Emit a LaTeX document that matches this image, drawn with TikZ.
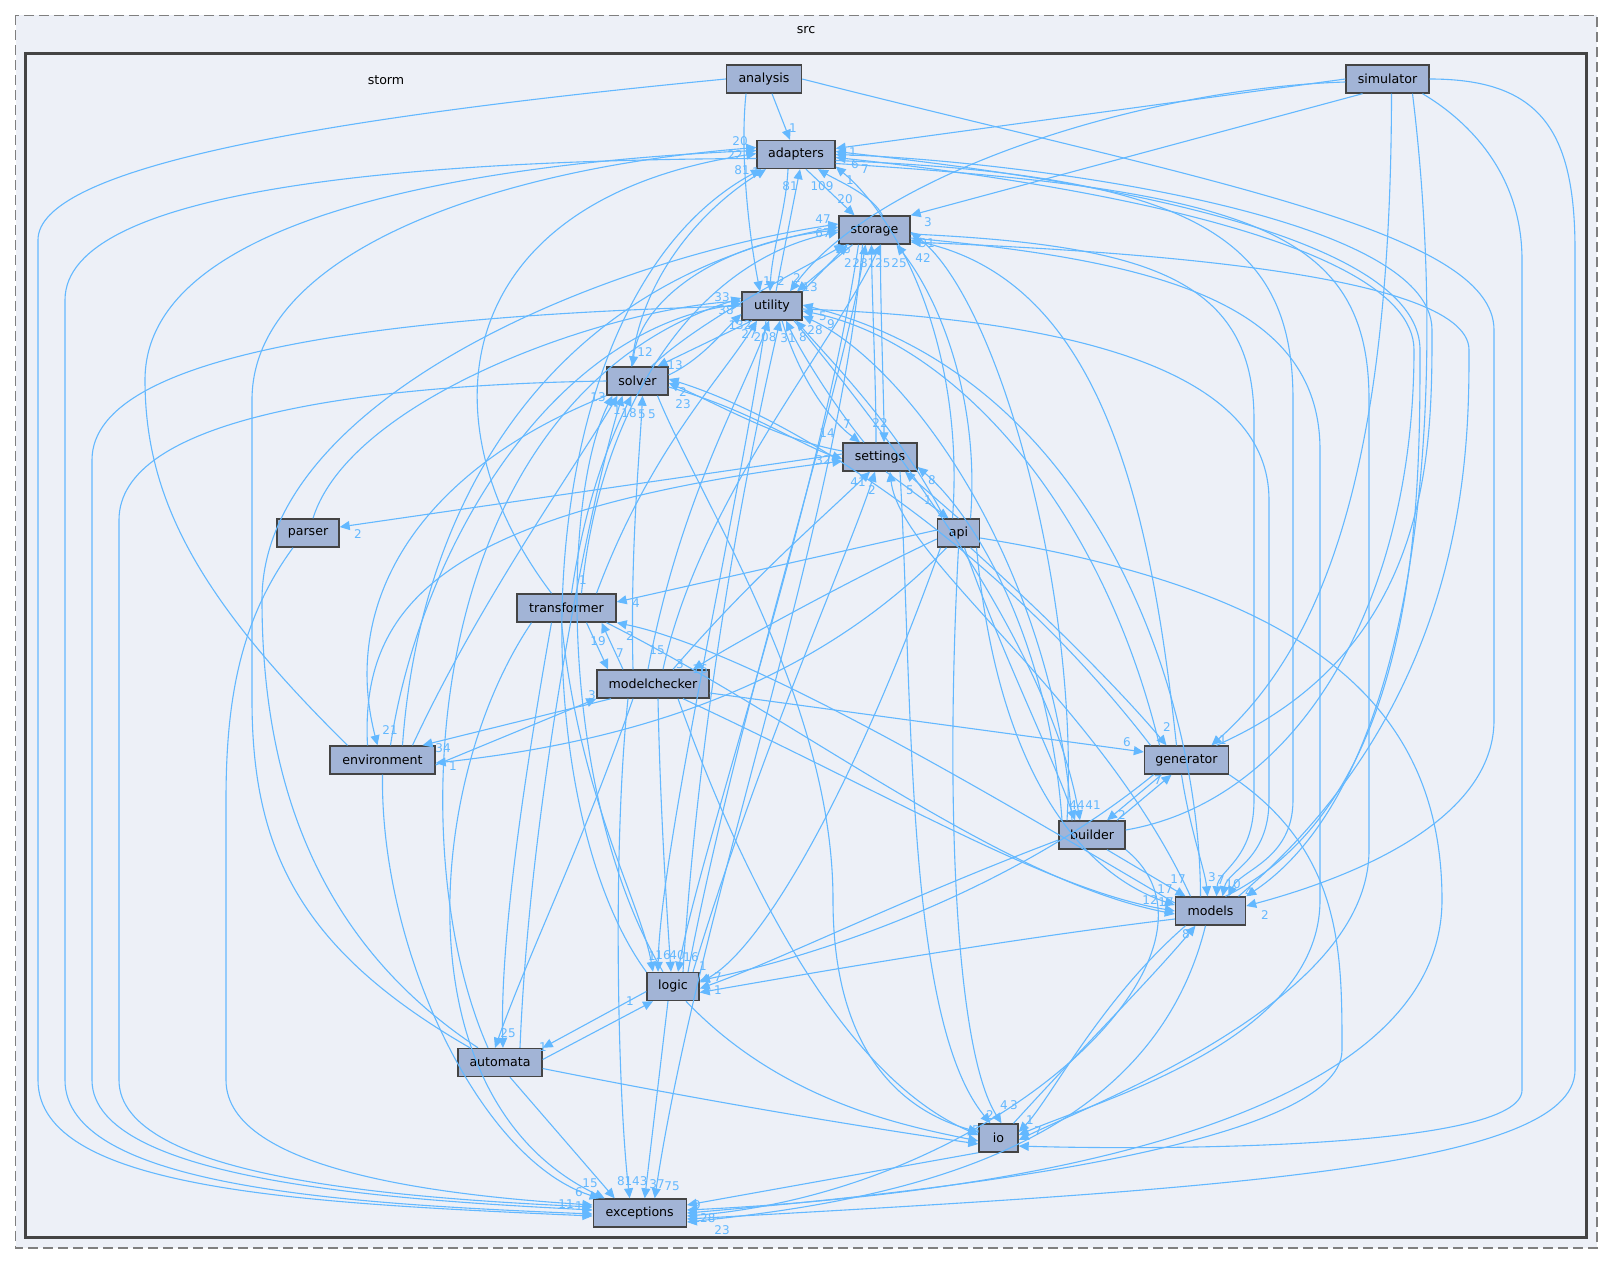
\documentclass[tikz,border=0pt]{standalone}
\usepackage{fontspec}
\setmainfont{DejaVu Sans}
\usetikzlibrary{arrows.meta}
\definecolor{bgc}{HTML}{EDF0F7}
\definecolor{nodec}{HTML}{A2B4D6}
\definecolor{bordc}{HTML}{444444}
\definecolor{edgec}{HTML}{63B8FF}
\definecolor{dashc}{HTML}{7F7F7F}
\begin{document}
\begin{tikzpicture}[x=1pt,y=-1pt,
  dirn/.style={draw=bordc, line width=1.4pt, fill=nodec, minimum height=28pt, inner sep=0pt, font=\fontsize{12.6}{14}\selectfont},
  e/.style={draw=edgec, line width=1.1pt, -{Triangle[length=10pt,width=9pt]}},
  lab/.style={text=edgec, font=\fontsize{12}{13}\selectfont, inner sep=0pt},
  cl/.style={font=\fontsize{12.6}{14}\selectfont, inner sep=0pt}
]
\useasboundingbox (0,0) rectangle (1613,1265);
\fill[white] (0,0) rectangle (1613,1265);
\draw[dashc, line width=1.6pt, dash pattern=on 10pt off 5pt, fill=bgc] (15.5,15.5) rectangle (1597,1248);
\draw[bordc, line width=3pt, fill=bgc] (25.7,53.3) rectangle (1586.4,1237);
\node[cl] (srclab) at (806,30) {src};
\node[cl] (stormlab) at (386,80) {storm};

% nodes
\node[dirn, minimum width=75pt] (A) at (764,79) {analysis};
\node[dirn, minimum width=83pt] (Sim) at (1387.5,79) {simulator};
\node[dirn, minimum width=78pt] (Ad) at (796,154.5) {adapters};
\node[dirn, minimum width=71pt] (St) at (874.5,230) {storage};
\node[dirn, minimum width=60pt] (U) at (772,306) {utility};
\node[dirn, minimum width=61pt] (So) at (637.5,381) {solver};
\node[dirn, minimum width=74pt] (Se) at (880,457) {settings};
\node[dirn, minimum width=42pt] (Api) at (958.5,533) {api};
\node[dirn, minimum width=62pt] (P) at (308,533) {parser};
\node[dirn, minimum width=99pt] (T) at (566.5,608) {transformer};
\node[dirn, minimum width=112pt] (MC) at (653,684) {modelchecker};
\node[dirn, minimum width=105pt] (Env) at (382.5,760) {environment};
\node[dirn, minimum width=84pt] (G) at (1186.5,760) {generator};
\node[dirn, minimum width=66pt] (B) at (1092,835) {builder};
\node[dirn, minimum width=70pt] (M) at (1210.5,911) {models};
\node[dirn, minimum width=52pt] (L) at (673,986.5) {logic};
\node[dirn, minimum width=84pt] (Au) at (500,1062.5) {automata};
\node[dirn, minimum width=39pt] (IO) at (998.5,1138) {io};
\node[dirn, minimum width=93pt] (Ex) at (639.7,1213) {exceptions};

% analysis
\draw[e] ([xshift=8pt]A.south) -- ([xshift=-6pt]Ad.north);
\draw[e] ([xshift=-18pt]A.south) .. controls (740,150) and (748,230) .. ([xshift=-12pt]U.north);
\draw[e] (A.west) .. controls (300,120) and (38,170) .. (38,240) -- (38,1080) .. controls (38,1190) and (300,1203) .. ([yshift=-3pt]Ex.west);
\draw[e] (A.east) .. controls (1200,180) and (1494,230) .. (1494,330) -- (1494,720) .. controls (1494,810) and (1380,870) .. ([yshift=5pt]M.east);
% simulator
\draw[e] (Sim.west) -- ([yshift=6pt]Ad.east);
\draw[e] ([xshift=-25pt]Sim.south) -- (St.north east);
\draw[e] ([yshift=-3pt]Sim.west) .. controls (1150,88) and (880,170) .. ([xshift=18pt]U.north);
\draw[e] ([xshift=4pt]Sim.south) .. controls (1391,450) and (1330,640) .. ([xshift=25pt]G.north);
\draw[e] ([xshift=25pt]Sim.south) .. controls (1450,400) and (1420,780) .. (M.north east);
\draw[e] (Sim.east) .. controls (1540,79) and (1575,130) .. (1575,250) -- (1575,1070) .. controls (1575,1170) and (1200,1190) .. ([yshift=-6pt]Ex.east);
\draw[e] ([xshift=35pt]Sim.south) .. controls (1450,110) and (1522,160) .. (1522,260) -- (1522,1090) .. controls (1522,1150) and (1150,1150) .. ([yshift=-8pt]IO.east);
% adapters
\draw[e] ([xshift=10pt]Ad.south) -- ([xshift=-20pt]St.north);
\draw[e] ([xshift=-8pt]Ad.south) .. controls (786,210) and (772,250) .. ([xshift=-2pt]U.north);
\draw[e] ([yshift=-4pt]Ad.west) .. controls (400,160) and (65,190) .. (65,300) -- (65,1080) .. controls (65,1188) and (350,1204) .. ([yshift=-1pt]Ex.west);
\draw[e] ([yshift=-9pt]Ad.east) .. controls (1250,190) and (1369,230) .. (1369,400) -- (1369,850) .. controls (1369,1000) and (1100,1100) .. ([yshift=-2pt]IO.east);
\draw[e] ([yshift=-6pt]Ad.east) .. controls (1200,175) and (1293,240) .. (1293,400) -- (1293,800) .. controls (1293,860) and (1240,870) .. ([xshift=18pt]M.north);
% storage
\draw[e] ([xshift=8pt]St.north) .. controls (872,195) and (840,182) .. ([xshift=22pt]Ad.south);
\draw[e] ([xshift=-22pt]St.south) -- ([xshift=25pt]U.north);
\draw[e] ([xshift=6pt]St.south) .. controls (880,300) and (884,400) .. ([xshift=4pt]Se.north);
\draw[e] (St.west) .. controls (720,240) and (640,300) .. ([xshift=-5pt]So.north);
\draw[e] ([xshift=-12pt]St.south) .. controls (840,520) and (700,900) .. ([xshift=15pt]Ex.north);
\draw[e] ([yshift=-4pt]St.east) .. controls (1150,245) and (1254,280) .. (1254,420) -- (1254,800) .. controls (1254,860) and (1218,870) .. ([xshift=6pt]M.north);
\draw[e] ([yshift=-8pt]St.east) .. controls (1150,260) and (1320,300) .. (1320,450) -- (1320,900) .. controls (1320,1040) and (1100,1100) .. ([yshift=3pt]IO.east);
\draw[e] ([xshift=-16pt]St.south) .. controls (820,500) and (700,850) .. ([xshift=5pt]L.north);
% utility
\draw[e] ([xshift=4pt]U.north) -- ([xshift=4pt]Ad.south);
\draw[e] (U.north east) -- ([xshift=-27pt]St.south);
\draw[e] ([xshift=-20pt]U.south) -- ([xshift=20pt]So.north);
\draw[e] ([xshift=10pt]U.south) .. controls (800,380) and (830,420) .. ([xshift=-20pt]Se.north);
\draw[e] (U.west) .. controls (400,315) and (92,350) .. (92,460) -- (92,1080) .. controls (92,1182) and (400,1200) .. ([yshift=3pt]Ex.west);
\draw[e] ([yshift=-3pt]U.east) .. controls (1100,320) and (1269,380) .. (1269,500) -- (1269,800) .. controls (1269,860) and (1228,870) .. ([xshift=12pt]M.north);
\draw[e] ([xshift=-6pt]U.south) .. controls (740,500) and (660,850) .. ([xshift=-15pt]L.north);
\draw[e] ([xshift=22pt]U.south) .. controls (900,450) and (1050,650) .. ([xshift=-12pt]B.north);
% solver
\draw[e] ([xshift=-6pt]So.north) .. controls (640,280) and (700,210) .. ([xshift=-30pt]Ad.south);
\draw[e] ([xshift=14pt]So.north) .. controls (700,320) and (800,270) .. ([xshift=-30pt]St.south);
\draw[e] ([yshift=6pt]So.east) .. controls (700,360) and (720,335) .. ([yshift=-8pt]U.west);
\draw[e] ([yshift=-6pt]So.east) .. controls (750,410) and (800,445) .. ([yshift=-2pt]Se.west);
\draw[e] (So.west) .. controls (350,385) and (119,420) .. (119,520) -- (119,1080) .. controls (119,1178) and (400,1198) .. ([yshift=6pt]Ex.west);
\draw[e] ([xshift=20pt]So.south) .. controls (700,500) and (833,700) .. (833,900) .. controls (833,1050) and (900,1110) .. ([yshift=6pt]IO.west);
\draw[e] (So.south west) .. controls (420,470) and (340,600) .. ([xshift=-5pt]Env.north);
% settings
\draw[e] ([yshift=6pt]Se.west) .. controls (780,440) and (720,405) .. ([yshift=-2pt]So.east);
\draw[e] ([xshift=-16pt]Se.north) .. controls (830,400) and (800,350) .. ([xshift=14pt]U.south);
\draw[e] ([xshift=-4pt]Se.north) .. controls (876,380) and (872,300) .. ([xshift=-3pt]St.south);
\draw[e] ([yshift=3pt]Se.west) -- ([yshift=6pt]P.east);
\draw[e] ([xshift=6pt]Se.south) -- ([xshift=-10pt]Api.north);
\draw[e] ([xshift=20pt]Se.south) .. controls (913,700) and (905,1020) .. ([xshift=-8pt]IO.north);
% api
\draw[e] (Api.north) -- ([xshift=25pt]Se.south);
\draw[e] ([xshift=12pt]Api.north) .. controls (980,400) and (940,300) .. ([xshift=22pt]St.south);
\draw[e] ([xshift=-14pt]Api.north) .. controls (900,430) and (830,360) .. ([xshift=24pt]U.south);
\draw[e] ([xshift=-6pt]Api.north) .. controls (965,350) and (900,220) .. ([yshift=-12pt]Ad.east);
\draw[e] ([yshift=3pt]Api.west) -- ([yshift=6pt]T.east);
\draw[e] ([yshift=-6pt]Api.west) .. controls (850,580) and (740,640) .. ([xshift=40pt]MC.north);
\draw[e] ([xshift=-12pt]Api.south) .. controls (800,700) and (600,745) .. ([yshift=-3pt]Env.east);
\draw[e] ([xshift=12pt]Api.south) .. controls (1050,620) and (1120,690) .. ([xshift=-20pt]G.north);
\draw[e] ([xshift=6pt]Api.south) .. controls (1000,650) and (1050,750) .. ([xshift=-17pt]B.north);
\draw[e] ([xshift=18pt]Api.south) .. controls (1000,800) and (1100,880) .. ([yshift=6pt]M.west);
\draw[e] ([xshift=-18pt]Api.south) .. controls (850,800) and (760,950) .. ([yshift=4pt]L.east);
\draw[e] (Api.south) .. controls (945,800) and (955,1050) .. ([xshift=3pt]IO.north);
\draw[e] ([yshift=-5pt]Api.east) .. controls (1300,590) and (1442,700) .. (1442,900) .. controls (1442,1150) and (900,1200) .. ([yshift=3pt]Ex.east);
% parser
\draw[e] ([xshift=5pt]P.north) .. controls (350,400) and (600,310) .. ([yshift=5pt]U.west);
\draw[e] ([xshift=-15pt]P.south) .. controls (240,620) and (226,700) .. (226,800) -- (226,1080) .. controls (226,1172) and (450,1196) .. ([yshift=8pt]Ex.west);
% transformer
\draw[e] ([xshift=-15pt]T.north) .. controls (420,420) and (450,200) .. ([yshift=1pt]Ad.west);
\draw[e] ([xshift=15pt]T.north) .. controls (600,400) and (700,260) .. ([yshift=-2pt]St.west);
\draw[e] ([xshift=30pt]T.north) .. controls (650,450) and (720,380) .. ([xshift=-15pt]U.south);
\draw[e] ([xshift=5pt]T.north) .. controls (585,500) and (610,440) .. ([xshift=-6pt]So.south);
\draw[e] ([xshift=20pt]T.south) -- ([xshift=-45pt]MC.north);
\draw[e] ([xshift=40pt]T.south) .. controls (800,720) and (1000,880) .. ([yshift=-3pt]M.west);
\draw[e] ([xshift=-5pt]T.south) .. controls (580,800) and (640,900) .. ([xshift=-20pt]L.north);
\draw[e] ([xshift=-15pt]T.south) .. controls (520,800) and (500,950) .. ([xshift=3pt]Au.north);
\draw[e] ([xshift=-35pt]T.south) .. controls (425,780) and (400,1100) .. ([xshift=-35pt]Ex.north);
% modelchecker
\draw[e] ([xshift=-30pt]MC.north) -- ([xshift=35pt]T.south);
\draw[e] ([xshift=10pt]MC.north) .. controls (700,500) and (830,350) .. ([xshift=6pt]St.south);
\draw[e] ([xshift=-5pt]MC.north) .. controls (680,500) and (740,400) .. ([xshift=-3pt]U.south);
\draw[e] ([xshift=-20pt]MC.north) .. controls (630,550) and (640,450) .. ([xshift=5pt]So.south);
\draw[e] ([xshift=20pt]MC.north) .. controls (750,580) and (820,520) .. ([xshift=-10pt]Se.south);
\draw[e] ([xshift=-42pt]MC.south) -- ([xshift=40pt]Env.north);
\draw[e] ([yshift=-5pt]Env.east) -- (MC.south west);
\draw[e] ([yshift=-9pt]MC.east) -- ([yshift=8pt]G.west);
\draw[e] ([xshift=30pt]MC.south) .. controls (900,800) and (1050,890) .. (M.west);
\draw[e] ([xshift=5pt]MC.south) .. controls (660,800) and (666,900) .. ([xshift=-2pt]L.north);
\draw[e] ([xshift=-20pt]MC.south) .. controls (580,850) and (530,950) .. ([xshift=-5pt]Au.north);
\draw[e] ([xshift=25pt]MC.south) .. controls (750,900) and (850,1080) .. ([yshift=3pt]IO.west);
\draw[e] ([xshift=-25pt]MC.south) .. controls (612,850) and (618,1100) .. ([xshift=-10pt]Ex.north);
% environment
\draw[e] ([xshift=-35pt]Env.north) .. controls (200,600) and (145,500) .. (145,380) .. controls (145,210) and (500,162) .. ([yshift=4pt]Ad.west);
\draw[e] ([xshift=20pt]Env.north) .. controls (420,500) and (550,280) .. ([yshift=3pt]St.west);
\draw[e] ([xshift=8pt]Env.north) .. controls (420,550) and (550,330) .. ([yshift=2pt]U.west);
\draw[e] ([xshift=30pt]Env.north) .. controls (480,600) and (580,460) .. ([xshift=-20pt]So.south);
\draw[e] ([xshift=-15pt]Env.north) .. controls (360,600) and (450,510) .. ([yshift=-4pt]Se.west);
\draw[e] (Env.south) .. controls (380,950) and (480,1160) .. ([xshift=-40pt]Ex.north);
% generator
\draw[e] ([xshift=30pt]G.north) .. controls (1432,650) and (1432,450) .. (1432,330) .. controls (1432,210) and (1000,160) .. (Ad.east);
\draw[e] ([xshift=-10pt]G.north) .. controls (1150,500) and (1100,280) .. ([yshift=-10pt]St.east);
\draw[e] ([xshift=-27pt]G.north) .. controls (1100,500) and (950,340) .. ([yshift=-5pt]U.east);
\draw[e] ([xshift=-36pt]G.north) .. controls (1000,550) and (800,420) .. ([yshift=2pt]So.east);
\draw[e] ([xshift=-25pt]G.south) -- ([xshift=15pt]B.north);
\draw[e] ([xshift=25pt]B.north) -- ([xshift=-15pt]G.south);
\draw[e] ([xshift=-5pt]G.south) .. controls (1190,830) and (1205,870) .. ([xshift=-3pt]M.north);
\draw[e] ([xshift=-33pt]G.south) .. controls (1000,900) and (800,960) .. ([yshift=6pt]L.east);
\draw[e] (G.south east) .. controls (1342,850) and (1342,950) .. (1342,1050) .. controls (1342,1150) and (900,1195) .. (Ex.east);
% builder
\draw[e] ([xshift=-25pt]B.north) .. controls (1080,600) and (1000,300) .. ([yshift=-2pt]St.east);
\draw[e] ([xshift=-20pt]B.north) .. controls (1050,550) and (900,360) .. ([yshift=-10pt]U.east);
\draw[e] ([xshift=-30pt]B.north) .. controls (1050,650) and (980,520) .. ([yshift=-10pt]Se.east);
\draw[e] ([xshift=15pt]B.south) -- ([xshift=-25pt]M.north);
\draw[e] ([yshift=-5pt]B.west) .. controls (900,900) and (780,960) .. ([yshift=-2pt]L.east);
\draw[e] ([yshift=5pt]B.east) .. controls (1300,800) and (1414,600) .. (1414,350) .. controls (1414,230) and (1000,175) .. ([yshift=-3pt]Ad.east);
\draw[e] (B.south east) .. controls (1250,950) and (1000,1190) .. ([yshift=-3pt]Ex.east);
% models
\draw[e] ([xshift=15pt]M.north) .. controls (1420,800) and (1420,500) .. (1420,350) .. controls (1420,220) and (1000,170) .. ([yshift=3pt]Ad.east);
\draw[e] ([xshift=28pt]M.north) .. controls (1469,700) and (1469,450) .. (1469,350) .. controls (1469,270) and (1100,250) .. ([yshift=-12pt]St.east);
\draw[e] ([xshift=-10pt]M.north) .. controls (1200,700) and (1100,380) .. ([yshift=1pt]U.east);
\draw[e] ([xshift=-20pt]M.north) .. controls (1100,700) and (900,560) .. ([xshift=10pt]Se.south);
\draw[e] ([yshift=8pt]M.west) .. controls (1000,800) and (750,650) .. (T.south east);
\draw[e] ([xshift=-25pt]M.south) .. controls (1100,1000) and (1050,1100) .. ([yshift=6pt]IO.east);
\draw[e] ([xshift=15pt]IO.north) .. controls (1080,1050) and (1150,980) .. ([xshift=-15pt]M.south);
\draw[e] ([yshift=-8pt]M.west) .. controls (1000,940) and (800,975) .. ([yshift=-6pt]L.east);
\draw[e] ([xshift=-5pt]M.south) .. controls (1150,1150) and (900,1200) .. ([yshift=-9pt]Ex.east);
% logic
\draw[e] (L.north west) .. controls (520,800) and (520,300) .. ([xshift=-35pt]Ad.south);
\draw[e] ([xshift=15pt]L.north) .. controls (740,700) and (840,400) .. ([xshift=-9pt]St.south);
\draw[e] ([xshift=10pt]L.north) .. controls (700,700) and (750,450) .. ([xshift=8pt]U.south);
\draw[e] ([xshift=-10pt]L.north) .. controls (560,800) and (560,500) .. ([xshift=-25pt]So.south);
\draw[e] ([xshift=20pt]L.north) .. controls (760,750) and (850,550) .. ([xshift=-5pt]Se.south);
\draw[e] ([yshift=-5pt]L.west) -- (Au.north east);
\draw[e] ([yshift=3pt]Au.east) -- ([xshift=-20pt]L.south);
\draw[e] ([xshift=13pt]L.south) .. controls (780,1100) and (900,1125) .. ([yshift=-3pt]IO.west);
\draw[e] ([xshift=-5pt]L.south) -- ([xshift=5pt]Ex.north);
% automata
\draw[e] ([xshift=-30pt]Au.north) .. controls (300,950) and (252,850) .. (252,700) -- (252,400) .. controls (252,250) and (500,168) .. ([yshift=7pt]Ad.west);
\draw[e] ([xshift=-22pt]Au.north) .. controls (330,950) and (262,800) .. (262,600) .. controls (262,400) and (600,260) .. ([yshift=6pt]St.west);
\draw[e] ([xshift=-12pt]Au.north) .. controls (400,850) and (420,400) .. ([yshift=8pt]U.west);
\draw[e] ([xshift=20pt]Au.north) .. controls (530,800) and (590,500) .. ([xshift=-15pt]So.south);
\draw[e] ([yshift=-6pt]Au.east) .. controls (700,1100) and (850,1125) .. ([yshift=-6pt]IO.west);
\draw[e] ([xshift=10pt]Au.south) -- ([xshift=-25pt]Ex.north);
% io
\draw[e] (IO.south west) -- ([yshift=8pt]Ex.east);

% labels
\foreach \lx/\ly/\lt [count=\i] in {
 793/128/1, 767/281/1, 781/281/2, 797/278/2, 810/287/13,
 740/141/20, 735/155/22, 742/170/81, 756/172/1, 790/186/81, 822/186/109,
 845/199/20, 853/152/1, 855/164/6, 865/169/7, 850/180/1,
 928/222/3, 927/243/91, 923/258/42, 823/219/47, 823/233/67, 843/249/36,
 848/263/2, 860/263/28, 879/263/125, 899/263/25,
 722/297/33, 726/310/38, 740/325/132, 749/334/27, 765/337/208, 788/338/31, 803/337/8, 815/330/28, 823/316/5, 831/324/9,
 645/352/12, 675/365/13, 683/392/2, 683/404/23, 598/397/13, 617/410/1, 629/413/18, 642/414/5, 652/414/5,
 847/424/7, 827/433/14, 880/423/22, 823/460/32, 858/482/41, 872/490/2, 910/490/5, 932/480/8, 928/500/1,
 358/534/2, 583/580/1, 636/603/4, 630/636/2, 598/641/19,
 620/653/7, 657/650/15, 680/664/3, 700/669/16, 592/695/3,
 390/730/21, 443/748/34, 453/766/1,
 1127/742/6, 1167/727/2, 1223/740/1, 1077/805/44, 1093/805/41, 1158/780/7, 1122/815/2,
 1178/879/17, 1212/877/3, 1221/880/7, 1233/884/10, 1249/892/4, 1165/889/17, 1150/900/12, 1166/902/17, 1265/915/2, 1186/934/8,
 652/956/1, 663/955/16, 677/955/40, 691/957/16, 703/966/1, 718/977/7, 718/990/1, 630/1001/1,
 508/1033/25, 543/1047/1,
 1004/1105/4, 1014/1105/3, 990/1115/2, 976/1130/5, 1030/1120/1, 1038/1131/7,
 590/1183/15, 621/1181/8, 636/1181/143, 657/1184/37, 672/1186/75,
 579/1192/6, 566/1204/11, 579/1206/1, 697/1205/9, 704/1218/128, 722/1230/23
} \node[lab] (lb\i) at (\lx,\ly) {\lt};
\end{tikzpicture}
\end{document}
